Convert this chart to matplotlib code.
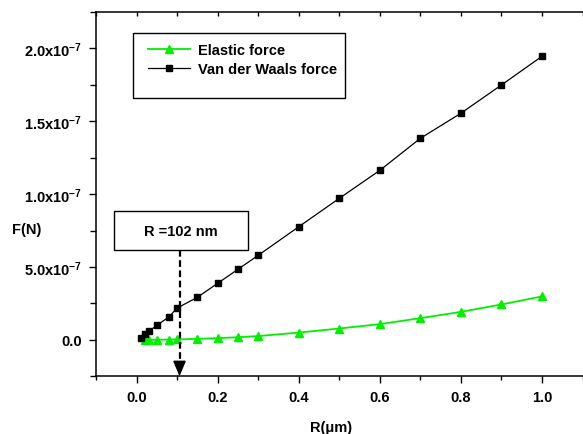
import matplotlib
matplotlib.use("Agg")
import matplotlib.pyplot as plt
from matplotlib.patches import Rectangle
from matplotlib.ticker import FixedLocator, FixedFormatter, MultipleLocator

plt.rcParams["font.family"] = ["Liberation Sans", "DejaVu Sans"]
plt.rcParams["font.weight"] = "bold"
plt.rcParams["mathtext.fontset"] = "custom"
plt.rcParams["mathtext.rm"] = "Liberation Sans:bold"
plt.rcParams["mathtext.default"] = "rm"

# --- Data (forces in units of 1e-7 N) -----------------------------------
r_vdw = [0.01, 0.02, 0.03, 0.05, 0.08, 0.1, 0.15, 0.2, 0.25, 0.3,
         0.4, 0.5, 0.6, 0.7, 0.8, 0.9, 1.0]
f_vdw = [0.016, 0.039, 0.058, 0.099, 0.158, 0.218, 0.292, 0.388, 0.484, 0.580,
         0.776, 0.971, 1.163, 1.383, 1.555, 1.749, 1.946]

r_el = [0.02, 0.03, 0.05, 0.08, 0.1, 0.15, 0.2, 0.25, 0.3,
        0.4, 0.5, 0.6, 0.7, 0.8, 0.9, 1.0]
f_el = [0.0, 0.0, 0.001, 0.002, 0.003, 0.007, 0.012, 0.018, 0.026,
        0.050, 0.078, 0.108, 0.149, 0.192, 0.243, 0.298]

y_ticks = [0.0, 0.5, 1.0, 1.5, 2.0]
y_tick_labels = ["0.0", "5.0x10$^{-7}$", "1.0x10$^{-7}$", "1.5x10$^{-7}$", "2.0x10$^{-7}$"]
x_ticks = [0.0, 0.2, 0.4, 0.6, 0.8, 1.0]
x_tick_labels = ["0.0", "0.2", "0.4", "0.6", "0.8", "1.0"]

r_mark = 0.106
mark_label = "R =102 nm"

FS = 10.5

# --- Figure -------------------------------------------------------------
fig = plt.figure(figsize=(5.83, 4.35), dpi=100)
ax = fig.add_axes([96 / 583, 1 - 377.3 / 435, (582.5 - 96) / 583, (377.3 - 13) / 435])

ax.plot(r_el, f_el, color="#00f000", lw=1.3, marker="^", ms=6, mec="#00f000",
        label="Elastic force")
ax.plot(r_vdw, f_vdw, color="black", lw=0.9, marker="s", ms=5,
        label="Van der Waals force")

ax.set_xlim(-0.1, 1.1)
ax.set_ylim(-0.25, 2.25)

ax.xaxis.set_major_locator(FixedLocator(x_ticks))
ax.xaxis.set_major_formatter(FixedFormatter(x_tick_labels))
ax.xaxis.set_minor_locator(MultipleLocator(0.1))
ax.yaxis.set_major_locator(FixedLocator(y_ticks))
ax.yaxis.set_major_formatter(FixedFormatter(y_tick_labels))
ax.yaxis.set_minor_locator(MultipleLocator(0.25))

ax.tick_params(which="major", direction="out", length=5, width=1, labelsize=FS, pad=5)
ax.tick_params(which="minor", direction="out", length=3, width=1)
ax.tick_params(axis="y", which="minor", length=4)
ax.spines["right"].set_visible(False)
for s in ("left", "bottom", "top"):
    ax.spines[s].set_linewidth(1.1)

top = ax.secondary_xaxis("top")
top.xaxis.set_major_locator(MultipleLocator(0.1))
top.tick_params(direction="in", length=3, width=1, labeltop=False)
top.spines["top"].set_visible(False)

ax.set_xlabel("R(\u03bcm)", fontsize=FS, fontweight="bold")
ax.xaxis.set_label_coords(331 / 583, 1 - 428 / 435, transform=fig.transFigure)
ax.xaxis.label.set_va("center")
ax.set_ylabel("F(N)", fontsize=FS, fontweight="bold", rotation=0, ha="center", va="center")
ax.yaxis.set_label_coords(27 / 583, 1 - 230 / 435, transform=fig.transFigure)

# legend without its own frame, plus a taller box like the original
ax.legend(loc="upper left", bbox_to_anchor=(0.1069, 0.9143), borderaxespad=0,
          fontsize=FS, frameon=False, borderpad=0, handlelength=2.9,
          handletextpad=0.5, labelspacing=0.32)
ax.add_patch(Rectangle((0.0754, 0.7631), 0.4364, 0.1784, transform=ax.transAxes,
                       fill=False, ec="black", lw=1.0, zorder=3))

# --- Annotation box and dashed arrow -----------------------------------
ax.add_patch(Rectangle((-0.056, 0.618), 0.331, 0.264, fill=False, ec="black", lw=1.0,
                       zorder=3))
ax.text(0.1095, 0.75, mark_label, ha="center", va="center", fontsize=FS,
        fontweight="bold")
ax.plot([r_mark, r_mark], [0.618, -0.17], color="black", lw=1.6, dashes=(3, 1.6))
ax.annotate("", xy=(r_mark, -0.25), xytext=(r_mark, -0.16),
            arrowprops=dict(arrowstyle="-|>,head_length=0.95,head_width=0.4",
                            lw=1.0, color="black", shrinkA=0, shrinkB=0))

fig.savefig("out.png", dpi=100)
